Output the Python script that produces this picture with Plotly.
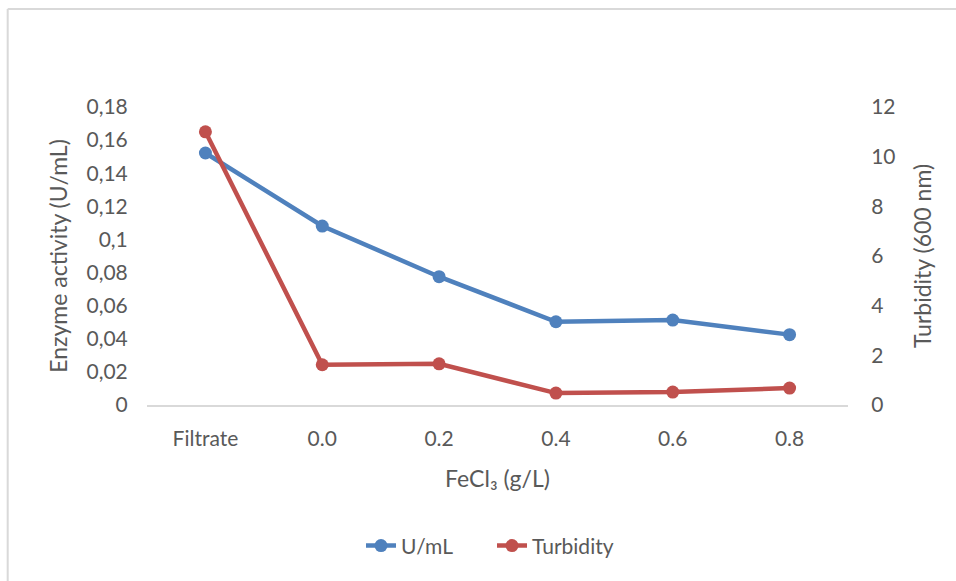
import plotly.graph_objects as go

categories = ["Filtrate", "0.0", "0.2", "0.4", "0.6", "0.8"]
enzyme_activity = [0.1522, 0.1081, 0.0775, 0.0503, 0.0513, 0.0425]
turbidity = [11.0, 1.62, 1.66, 0.48, 0.52, 0.68]

left_tickvals = [0, 0.02, 0.04, 0.06, 0.08, 0.1, 0.12, 0.14, 0.16, 0.18]
left_ticktext = ["0", "0,02", "0,04", "0,06", "0,08", "0,1", "0,12", "0,14", "0,16", "0,18"]
right_tickvals = [0, 2, 4, 6, 8, 10, 12]

BLUE = "#4f81bd"
RED = "#c0504d"
TXT = "#595959"
FONT = "Lato, 'Open Sans', sans-serif"
TICK = 21
TITLE = 23

fig = go.Figure()
fig.add_trace(go.Scatter(
    x=categories, y=enzyme_activity, name="U/mL", mode="lines+markers",
    line=dict(color=BLUE, width=4.5), marker=dict(color=BLUE, size=13),
    yaxis="y",
))
fig.add_trace(go.Scatter(
    x=categories, y=turbidity, name="Turbidity", mode="lines+markers",
    line=dict(color=RED, width=4.5), marker=dict(color=RED, size=13),
    yaxis="y2",
))

fig.update_layout(
    width=956, height=581,
    margin=dict(l=146.5, r=107.5, t=107, b=176),
    paper_bgcolor="white", plot_bgcolor="white",
    font=dict(family=FONT, size=TICK, color=TXT),
    showlegend=True,
    legend=dict(orientation="h", x=(492 - 146.5) / 702, y=-0.473,
                xanchor="center", yanchor="middle",
                font=dict(size=21, color=TXT), tracegroupgap=0,
                entrywidth=86, entrywidthmode="pixels"),
    xaxis=dict(
        type="category", range=[-0.5, 5.5], showgrid=False,
        showline=True, linecolor="#d9d9d9", linewidth=1.5,
        ticks="outside", ticklen=14, tickcolor="rgba(0,0,0,0)",
        tickfont=dict(size=TICK, color=TXT),
        title=dict(text="FeCl₃ (g/L)", font=dict(size=TITLE, color=TXT), standoff=22),
        zeroline=False,
    ),
    yaxis=dict(
        range=[0, 0.18], tickvals=left_tickvals, ticktext=left_ticktext,
        showgrid=False, zeroline=False, showline=False,
        ticks="outside", ticklen=14, tickcolor="rgba(0,0,0,0)",
        tickfont=dict(size=TICK, color=TXT),
        title=dict(text="Enzyme activity (U/mL)", font=dict(size=TITLE, color=TXT), standoff=12),
    ),
    yaxis2=dict(
        range=[0, 12], tickvals=right_tickvals, overlaying="y", side="right",
        showgrid=False, zeroline=False, showline=False,
        ticks="outside", ticklen=18, tickcolor="rgba(0,0,0,0)",
        tickfont=dict(size=TICK, color=TXT),
        title=dict(text="Turbidity (600 nm)", font=dict(size=TITLE, color=TXT), standoff=20),
    ),
    shapes=[
        dict(type="line", xref="paper", yref="paper",
             x0=(7 - 146.5) / 702, x1=(7 - 146.5) / 702,
             y0=(405 - 9) / 298, y1=(405 - 600) / 298,
             line=dict(color="#d9d9d9", width=2)),
        dict(type="line", xref="paper", yref="paper",
             x0=(7 - 146.5) / 702, x1=(970 - 146.5) / 702,
             y0=(405 - 9) / 298, y1=(405 - 9) / 298,
             line=dict(color="#d9d9d9", width=2)),
    ],
)

fig.write_html("out.html")
